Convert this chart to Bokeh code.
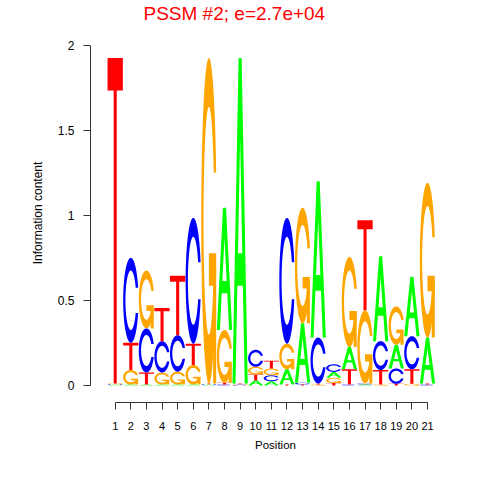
import numpy as np
from bokeh.plotting import figure
from bokeh.models import FixedTicker, ColumnDataSource
from bokeh.embed import file_html
from bokeh.resources import INLINE

# ---- data (information content per letter) ----
positions = [1, 2, 3, 4, 5, 6, 7, 8, 9, 10, 11, 12, 13, 14, 15, 16, 17, 18, 19, 20, 21]
A_ht = [0.004, 0.006, 0.006, 0.006, 0.006, 0.006, 0.004, 0.72, 1.915, 0.03, 0.025,
        0.09, 0.35, 0.92, 0.035, 0.13, 0.006, 0.50, 0.14, 0.35, 0.27]
C_ht = [0.004, 0.50, 0.26, 0.185, 0.215, 0.74, 0.004, 0.006, 0.004, 0.10, 0.035,
        0.74, 0.01, 0.27, 0.045, 0.006, 0.006, 0.17, 0.09, 0.195, 0.006]
G_ht = [0.004, 0.085, 0.34, 0.07, 0.075, 0.115, 1.915, 0.31, 0.004, 0.045, 0.04,
        0.15, 0.68, 0.006, 0.03, 0.53, 0.43, 0.006, 0.225, 0.01, 0.91]
T_ht = [1.915, 0.16, 0.07, 0.195, 0.35, 0.125, 0.004, 0.01, 0.004, 0.035, 0.045,
        0.006, 0.006, 0.006, 0.015, 0.09, 0.53, 0.085, 0.01, 0.085, 0.006]
y_ticks = [0, 0.5, 1, 1.5, 2]
y_tick_labels = ["0", "0.5", "1", "1.5", "2"]
title_text = "PSSM #2; e=2.7e+04"

letter_colors = {"A": "#00FF00", "C": "#0000FF", "G": "#FFA500", "T": "#FF0000"}

# ---- letter outlines in a unit box (shape templates) ----
def ring_c(n=120):
    a_out = 0.3
    a_in = np.arcsin(0.5 * np.sin(a_out) / 0.35)
    th_o = np.linspace(a_out, 2 * np.pi - a_out, n)
    th_i = np.linspace(2 * np.pi - a_in, a_in, n)
    xs = np.concatenate([0.5 + 0.5 * np.cos(th_o), 0.5 + 0.35 * np.cos(th_i)])
    ys = np.concatenate([0.5 + 0.5 * np.sin(th_o), 0.5 + 0.35 * np.sin(th_i)])
    return xs, ys

cx, cy = ring_c()
r1 = 0.5 + 0.5 * np.cos(0.3)
shapes = {
    "A": [[(np.array([0, 0.4, 0.6, 1, 0.8, 0.68, 0.32, 0.2]),
            np.array([0, 1, 1, 0, 0, 0.3, 0.3, 0])),
           (np.array([0.36, 0.5, 0.64]), np.array([0.4, 0.75, 0.4]))]],
    "C": [[(cx, cy)]],
    "G": [[(cx, cy)],
          [(np.array([r1, 0.5, 0.5, r1 - 0.2, r1 - 0.2, r1]),
            np.array([0.4, 0.4, 0.3, 0.3, 0.0, 0.0]))]],
    "T": [[(np.array([0, 1, 1, 0.6, 0.6, 0.4, 0.4, 0]),
            np.array([1, 1, 0.9, 0.9, 0, 0, 0.9, 0.9]))]],
}

heights = {"A": A_ht, "C": C_ht, "G": G_ht, "T": T_ht}
letters = ["A", "C", "G", "T"]
wid = 0.98

xs_all, ys_all, col_all = [], [], []
for i, pos in enumerate(positions):
    stack = sorted(letters, key=lambda L: heights[L][i])
    base = 0.0
    for L in stack:
        h = heights[L][i]
        for part in shapes[L]:
            px, py = [], []
            for (ux, uy) in part:
                px.append(list(pos - wid / 2 + ux * wid))
                py.append(list(base + uy * h))
            xs_all.append([px])
            ys_all.append([py])
            col_all.append(letter_colors[L])
        base += h

src = ColumnDataSource(dict(xs=xs_all, ys=ys_all, color=col_all))

px_per_unit_x = 15.615
px_per_unit_y = 170.0
W, H = 464, 464
ml, mr, mt, mb = 90, 4, 0, 62
top_panel = 23  # height taken by the title panel
frame_w = W - ml - mr
frame_h = H - top_panel - mb
x0 = 1 - (114.7 - 90) / px_per_unit_x
y0 = -(402 - 385) / px_per_unit_y
x1 = x0 + frame_w / px_per_unit_x
y1 = y0 + frame_h / px_per_unit_y

p = figure(width=W, height=H,
           x_range=(x0, x1), y_range=(y0, y1),
           output_backend="svg", toolbar_location=None,
           min_border_left=ml, min_border_right=mr,
           min_border_top=mt, min_border_bottom=mb,
           title=title_text)

p.multi_polygons(xs="xs", ys="ys", fill_color="color", line_color=None, source=src)

p.xgrid.visible = False
p.ygrid.visible = False
p.outline_line_color = None
p.background_fill_color = "white"

font = "Liberation Sans"

p.title.text_color = "#FF0000"
p.title.text_font = font
p.title.text_font_size = "19px"
p.title.text_font_style = "normal"
p.title.align = "left"
p.title.offset = 53
p.title.standoff = 0

for ax in (p.xaxis[0], p.yaxis[0]):
    ax.axis_line_color = "#333333"
    ax.major_tick_line_color = "#333333"
    ax.minor_tick_line_color = None
    ax.major_tick_in = 0
    ax.major_tick_out = 7
    ax.major_label_text_font = font
    ax.major_label_text_color = "black"
    ax.axis_label_text_font = font
    ax.axis_label_text_font_style = "normal"
    ax.axis_label_text_color = "black"

p.xaxis.ticker = FixedTicker(ticks=positions)
p.xaxis.bounds = (1, 21)
p.xaxis.axis_label = "Position"
p.xaxis.major_label_text_font_size = "11px"
p.xaxis.axis_label_text_font_size = "11.5px"
p.xaxis.major_label_standoff = 12
p.xaxis.axis_label_standoff = 6

p.yaxis.ticker = FixedTicker(ticks=y_ticks)
p.yaxis.major_label_overrides = {t: s for t, s in zip(y_ticks, y_tick_labels)}
p.yaxis.bounds = (0, 2)
p.yaxis.axis_label = "Information content"
p.yaxis.major_label_text_font_size = "12px"
p.yaxis.axis_label_text_font_size = "12px"
p.yaxis.major_label_standoff = 9
p.yaxis.axis_label_standoff = 10

open("out.html", "w").write(file_html(p, INLINE))
